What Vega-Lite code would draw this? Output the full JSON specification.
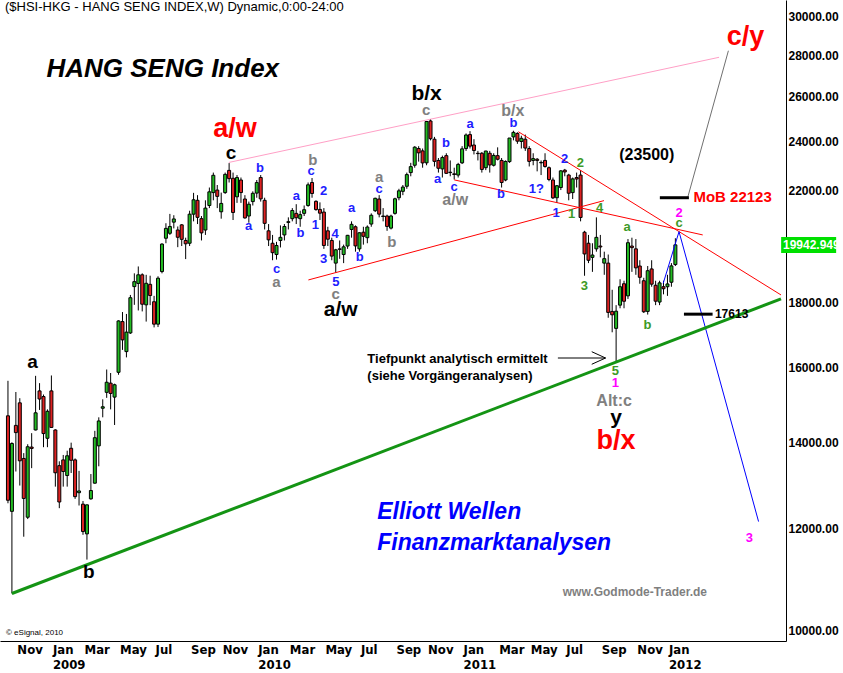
{
"$schema": "https://vega.github.io/schema/vega-lite/v6.json",
"width": 786, "height": 641,
"autosize": {"type": "none"},
"padding": {"left": 0, "top": 0, "right": 57, "bottom": 32},
"background": "white",
"config": {"view": {"stroke": null}, "font": "Liberation Sans"},
"datasets": {
"candles": [
{"date":"2008-10-20","open":14680,"high":15630,"low":12550,"close":12618},
{"date":"2008-10-27","open":12370,"high":14000,"low":10676,"close":13969},
{"date":"2008-11-03","open":14430,"high":15320,"low":13285,"close":14244},
{"date":"2008-11-10","open":15025,"high":15150,"low":12955,"close":13542},
{"date":"2008-11-17","open":13600,"high":13730,"low":11820,"close":12659},
{"date":"2008-11-24","open":12240,"high":13950,"low":12200,"close":13888},
{"date":"2008-12-01","open":13880,"high":14230,"low":13365,"close":13846},
{"date":"2008-12-08","open":14312,"high":15770,"low":14300,"close":14759},
{"date":"2008-12-15","open":15350,"high":15565,"low":14835,"close":15128},
{"date":"2008-12-22","open":15195,"high":15250,"low":13877,"close":14220},
{"date":"2008-12-29","open":14100,"high":14850,"low":13877,"close":14800},
{"date":"2009-01-05","open":15350,"high":15780,"low":14370,"close":14377},
{"date":"2009-01-12","open":14312,"high":14330,"low":12930,"close":13255},
{"date":"2009-01-19","open":13425,"high":13530,"low":12440,"close":12579},
{"date":"2009-01-26","open":13565,"high":13685,"low":12930,"close":13285},
{"date":"2009-02-02","open":13190,"high":13790,"low":12930,"close":13665},
{"date":"2009-02-09","open":13850,"high":13990,"low":13250,"close":13555},
{"date":"2009-02-16","open":13565,"high":13600,"low":12650,"close":12700},
{"date":"2009-02-23","open":12790,"high":13300,"low":12500,"close":12830},
{"date":"2009-03-02","open":12530,"high":12600,"low":11860,"close":11930},
{"date":"2009-03-09","open":11880,"high":12520,"low":11345,"close":12515},
{"date":"2009-03-16","open":12650,"high":13225,"low":12630,"close":12840},
{"date":"2009-03-23","open":13010,"high":14290,"low":13000,"close":14115},
{"date":"2009-03-30","open":13910,"high":14640,"low":13410,"close":14545},
{"date":"2009-04-06","open":14880,"high":15120,"low":14640,"close":14920},
{"date":"2009-04-13","open":15310,"high":15950,"low":15160,"close":15590},
{"date":"2009-04-20","open":15565,"high":15850,"low":14850,"close":15280},
{"date":"2009-04-27","open":15180,"high":15550,"low":14440,"close":15520},
{"date":"2009-05-04","open":15870,"high":17420,"low":15800,"close":17400},
{"date":"2009-05-11","open":17380,"high":17680,"low":16520,"close":16820},
{"date":"2009-05-18","open":16470,"high":17620,"low":16300,"close":17055},
{"date":"2009-05-25","open":17030,"high":18230,"low":17000,"close":18140},
{"date":"2009-06-01","open":18505,"high":18950,"low":17910,"close":18670},
{"date":"2009-06-08","open":18610,"high":19185,"low":17730,"close":18900},
{"date":"2009-06-15","open":18900,"high":18950,"low":17700,"close":17930},
{"date":"2009-06-22","open":17910,"high":18900,"low":17380,"close":18615},
{"date":"2009-06-29","open":18580,"high":18870,"low":17900,"close":18210},
{"date":"2009-07-06","open":18010,"high":18200,"low":17200,"close":17300},
{"date":"2009-07-13","open":17300,"high":18850,"low":17210,"close":18785},
{"date":"2009-07-20","open":19010,"high":20000,"low":18950,"close":19970},
{"date":"2009-07-27","open":20180,"high":20730,"low":20000,"close":20540},
{"date":"2009-08-03","open":20360,"high":21080,"low":20300,"close":20610},
{"date":"2009-08-10","open":20770,"high":21030,"low":20540,"close":20890},
{"date":"2009-08-17","open":20480,"high":20610,"low":19860,"close":20215},
{"date":"2009-08-24","open":20670,"high":20700,"low":19900,"close":20140},
{"date":"2009-08-31","open":20100,"high":20200,"low":19440,"close":19980},
{"date":"2009-09-07","open":20000,"high":21200,"low":19900,"close":21070},
{"date":"2009-09-14","open":21070,"high":21890,"low":20800,"close":21620},
{"date":"2009-09-21","open":21600,"high":21800,"low":20700,"close":20950},
{"date":"2009-09-28","open":20900,"high":21000,"low":20100,"close":20375},
{"date":"2009-10-05","open":20480,"high":21600,"low":20300,"close":21300},
{"date":"2009-10-12","open":21400,"high":22100,"low":21300,"close":21930},
{"date":"2009-10-19","open":21900,"high":22700,"low":21600,"close":22590},
{"date":"2009-10-26","open":22000,"high":22200,"low":21300,"close":21753},
{"date":"2009-11-02","open":21160,"high":21900,"low":20900,"close":21480},
{"date":"2009-11-09","open":21900,"high":22700,"low":21850,"close":22627},
{"date":"2009-11-16","open":22790,"high":23090,"low":22300,"close":22455},
{"date":"2009-11-23","open":22470,"high":22700,"low":20850,"close":21134},
{"date":"2009-11-30","open":21735,"high":22600,"low":21500,"close":22498},
{"date":"2009-12-07","open":22400,"high":22500,"low":21500,"close":21902},
{"date":"2009-12-14","open":21650,"high":21800,"low":20900,"close":20928},
{"date":"2009-12-21","open":21000,"high":21550,"low":20750,"close":21449},
{"date":"2009-12-28","open":21550,"high":21950,"low":21400,"close":21873},
{"date":"2010-01-04","open":21880,"high":22400,"low":21700,"close":22297},
{"date":"2010-01-11","open":22500,"high":22600,"low":21550,"close":21655},
{"date":"2010-01-18","open":21600,"high":21700,"low":20500,"close":20726},
{"date":"2010-01-25","open":20450,"high":20700,"low":19900,"close":20122},
{"date":"2010-02-01","open":20000,"high":20300,"low":19400,"close":19665},
{"date":"2010-02-08","open":19600,"high":20050,"low":19423,"close":19920},
{"date":"2010-02-15","open":20100,"high":20650,"low":19850,"close":20213},
{"date":"2010-02-22","open":20300,"high":20700,"low":20100,"close":20609},
{"date":"2010-03-01","open":20760,"high":20950,"low":20500,"close":20788},
{"date":"2010-03-08","open":20900,"high":21300,"low":20800,"close":21209},
{"date":"2010-03-15","open":21100,"high":21450,"low":20700,"close":20934},
{"date":"2010-03-22","open":20900,"high":21200,"low":20600,"close":21053},
{"date":"2010-03-29","open":21100,"high":21400,"low":21000,"close":21239},
{"date":"2010-04-05","open":21400,"high":22300,"low":21350,"close":22208},
{"date":"2010-04-12","open":22300,"high":22480,"low":21700,"close":21865},
{"date":"2010-04-19","open":21560,"high":21600,"low":21200,"close":21244},
{"date":"2010-04-26","open":21250,"high":21520,"low":20850,"close":21108},
{"date":"2010-05-03","open":21150,"high":21300,"low":19800,"close":19920},
{"date":"2010-05-10","open":20450,"high":20600,"low":19900,"close":20145},
{"date":"2010-05-17","open":20100,"high":20200,"low":19400,"close":19545},
{"date":"2010-05-24","open":19300,"high":19800,"low":18971,"close":19766},
{"date":"2010-05-31","open":19800,"high":20100,"low":19450,"close":19780},
{"date":"2010-06-07","open":19600,"high":19950,"low":19300,"close":19872},
{"date":"2010-06-14","open":19900,"high":20300,"low":19800,"close":20286},
{"date":"2010-06-21","open":20500,"high":20800,"low":20200,"close":20690},
{"date":"2010-06-28","open":20600,"high":20650,"low":19700,"close":19905},
{"date":"2010-07-05","open":19800,"high":20400,"low":19700,"close":20378},
{"date":"2010-07-12","open":20400,"high":20600,"low":19950,"close":20250},
{"date":"2010-07-19","open":20200,"high":20650,"low":20000,"close":20589},
{"date":"2010-07-26","open":20700,"high":21100,"low":20600,"close":21029},
{"date":"2010-08-02","open":21200,"high":21700,"low":21150,"close":21678},
{"date":"2010-08-09","open":21650,"high":21800,"low":20950,"close":21071},
{"date":"2010-08-16","open":21000,"high":21300,"low":20800,"close":20982},
{"date":"2010-08-23","open":21000,"high":21050,"low":20450,"close":20612},
{"date":"2010-08-30","open":20550,"high":21050,"low":20500,"close":21000},
{"date":"2010-09-06","open":21100,"high":21700,"low":21050,"close":21659},
{"date":"2010-09-13","open":21700,"high":22050,"low":21600,"close":21970},
{"date":"2010-09-20","open":21950,"high":22200,"low":21800,"close":22119},
{"date":"2010-09-27","open":22150,"high":22700,"low":22050,"close":22618},
{"date":"2010-10-04","open":22700,"high":23100,"low":22550,"close":22944},
{"date":"2010-10-11","open":23000,"high":23800,"low":22900,"close":23758},
{"date":"2010-10-18","open":23700,"high":23800,"low":23150,"close":23518},
{"date":"2010-10-25","open":23600,"high":23700,"low":22900,"close":23096},
{"date":"2010-11-01","open":23100,"high":24900,"low":23000,"close":24876},
{"date":"2010-11-08","open":24900,"high":24988,"low":24050,"close":24121},
{"date":"2010-11-15","open":24100,"high":24200,"low":22950,"close":23161},
{"date":"2010-11-22","open":23200,"high":23300,"low":22700,"close":22877},
{"date":"2010-11-29","open":22850,"high":23400,"low":22500,"close":23320},
{"date":"2010-12-06","open":23400,"high":23500,"low":22650,"close":22669},
{"date":"2010-12-13","open":22700,"high":23200,"low":22550,"close":22715},
{"date":"2010-12-20","open":22650,"high":22900,"low":22420,"close":22622},
{"date":"2010-12-27","open":22600,"high":23100,"low":22500,"close":23035},
{"date":"2011-01-03","open":23100,"high":23800,"low":23050,"close":23686},
{"date":"2011-01-10","open":23700,"high":24350,"low":23600,"close":24283},
{"date":"2011-01-17","open":24300,"high":24450,"low":23700,"close":23802},
{"date":"2011-01-24","open":23850,"high":24100,"low":23450,"close":23617},
{"date":"2011-01-31","open":23500,"high":23600,"low":23200,"close":23485},
{"date":"2011-02-07","open":23500,"high":23550,"low":22700,"close":22829},
{"date":"2011-02-14","open":22900,"high":23600,"low":22800,"close":23595},
{"date":"2011-02-21","open":23500,"high":23600,"low":22700,"close":23012},
{"date":"2011-02-28","open":23000,"high":23500,"low":22950,"close":23408},
{"date":"2011-03-07","open":23400,"high":23750,"low":23200,"close":23249},
{"date":"2011-03-14","open":23200,"high":23300,"low":22100,"close":22300},
{"date":"2011-03-21","open":22400,"high":23200,"low":22350,"close":23158},
{"date":"2011-03-28","open":23150,"high":24150,"low":23100,"close":24150},
{"date":"2011-04-04","open":24200,"high":24468,"low":24050,"close":24396},
{"date":"2011-04-11","open":24350,"high":24400,"low":23900,"close":24014},
{"date":"2011-04-18","open":24000,"high":24250,"low":23700,"close":24138},
{"date":"2011-04-25","open":24100,"high":24300,"low":23600,"close":23720},
{"date":"2011-05-02","open":23700,"high":23800,"low":22950,"close":23159},
{"date":"2011-05-09","open":23200,"high":23500,"low":23000,"close":23276},
{"date":"2011-05-16","open":23250,"high":23300,"low":22750,"close":23199},
{"date":"2011-05-23","open":23100,"high":23200,"low":22600,"close":23118},
{"date":"2011-05-30","open":23200,"high":23500,"low":22900,"close":22949},
{"date":"2011-06-06","open":22900,"high":22950,"low":22350,"close":22420},
{"date":"2011-06-13","open":22400,"high":22500,"low":21650,"close":21695},
{"date":"2011-06-20","open":21700,"high":22200,"low":21500,"close":22171},
{"date":"2011-06-27","open":22100,"high":22800,"low":22000,"close":22770},
{"date":"2011-07-04","open":22800,"high":22850,"low":22550,"close":22726},
{"date":"2011-07-11","open":22600,"high":22650,"low":21600,"close":21875},
{"date":"2011-07-18","open":21900,"high":22500,"low":21650,"close":22445},
{"date":"2011-07-25","open":22500,"high":22700,"low":22100,"close":22440},
{"date":"2011-08-01","open":22600,"high":22800,"low":20800,"close":20946},
{"date":"2011-08-08","open":20400,"high":20450,"low":18868,"close":19620},
{"date":"2011-08-15","open":20000,"high":20300,"low":19300,"close":19399},
{"date":"2011-08-22","open":19500,"high":20000,"low":19000,"close":19582},
{"date":"2011-08-29","open":19800,"high":20950,"low":19700,"close":20212},
{"date":"2011-09-05","open":19900,"high":20300,"low":19500,"close":19866},
{"date":"2011-09-12","open":19300,"high":19700,"low":18900,"close":19455},
{"date":"2011-09-19","open":19300,"high":19600,"low":17500,"close":17668},
{"date":"2011-09-26","open":17700,"high":18400,"low":17050,"close":17592},
{"date":"2011-10-03","open":17170,"high":17900,"low":16170,"close":17707},
{"date":"2011-10-10","open":17900,"high":18750,"low":17800,"close":18501},
{"date":"2011-10-17","open":18600,"high":18700,"low":17800,"close":18025},
{"date":"2011-10-24","open":18200,"high":20150,"low":18100,"close":20019},
{"date":"2011-10-31","open":19900,"high":20200,"low":19000,"close":19843},
{"date":"2011-11-07","open":19800,"high":20150,"low":18900,"close":19137},
{"date":"2011-11-14","open":19200,"high":19400,"low":18600,"close":18816},
{"date":"2011-11-21","open":18700,"high":18800,"low":17650,"close":17689},
{"date":"2011-11-28","open":17700,"high":19200,"low":17600,"close":19040},
{"date":"2011-12-05","open":19100,"high":19400,"low":18500,"close":18586},
{"date":"2011-12-12","open":18550,"high":18700,"low":17900,"close":18027},
{"date":"2011-12-19","open":18000,"high":18700,"low":17900,"close":18629},
{"date":"2011-12-26","open":18500,"high":18700,"low":18250,"close":18434},
{"date":"2012-01-02","open":18500,"high":18900,"low":18200,"close":18593},
{"date":"2012-01-09","open":18650,"high":19300,"low":18500,"close":19204},
{"date":"2012-01-16","open":19250,"high":20180,"low":19200,"close":19943}
],
"lines": [
{"line":"support","k":1,"date":"2008-10-27","price":10676},
{"line":"support","k":2,"date":"2012-07-21T06:00:00Z","price":18100},
{"line":"pink","k":1,"date":"2009-11-15T12:00:00Z","price":23116},
{"line":"pink","k":2,"date":"2012-04-02T12:00:00Z","price":27910},
{"line":"redA","k":1,"date":"2010-04-05T12:00:00Z","price":18727},
{"line":"redA","k":2,"date":"2011-09-11T12:00:00Z","price":21588},
{"line":"redB","k":1,"date":"2010-12-20","price":22405},
{"line":"redB","k":2,"date":"2012-03-04T12:00:00Z","price":20300},
{"line":"redC","k":1,"date":"2011-04-12T18:00:00Z","price":24424},
{"line":"redC","k":2,"date":"2012-07-21T06:00:00Z","price":18230},
{"line":"gray","k":1,"date":"2012-02-07T05:00:00Z","price":21735},
{"line":"gray","k":2,"date":"2012-04-19","price":28240},
{"line":"blue","k":1,"date":"2011-12-25T12:00:00Z","price":18614},
{"line":"blue","k":2,"date":"2012-01-22T12:00:00Z","price":20420},
{"line":"blue","k":3,"date":"2012-06-11T12:00:00Z","price":12145},
{"line":"mob","k":1,"date":"2011-12-19T12:00:00Z","price":21700},
{"line":"mob","k":2,"date":"2012-02-09","price":21700},
{"line":"lvl","k":1,"date":"2012-01-31T05:00:00Z","price":17613},
{"line":"lvl","k":2,"date":"2012-03-22","price":17613},
{"line":"shaft","k":1,"date":"2011-06-21T18:00:00Z","price":16282},
{"line":"shaft","k":2,"date":"2011-09-14T07:00:00Z","price":16282},
{"line":"head","k":1,"date":"2011-08-20T19:00:00Z","price":16467},
{"line":"head","k":2,"date":"2011-09-14T07:00:00Z","price":16282},
{"line":"head","k":3,"date":"2011-08-20T19:00:00Z","price":16100}
],
"tag": [{"d1":"2012-07-21T12:00:00Z","d2":"2012-10-27","p1":19656,"p2":20228,"dt":"2012-07-24T18:00:00Z","price":19935,"text":"19942.949"}],
"labels": [
{"group":"blue","date":"2010-01-09T19:00:00Z","price":22900,"text":"b"},
{"group":"blue","date":"2009-12-20T12:00:00Z","price":20640,"text":"a"},
{"group":"blue","date":"2010-02-08","price":19100,"text":"c"},
{"group":"blue","date":"2010-04-10T06:00:00Z","price":22780,"text":"c"},
{"group":"blue","date":"2010-03-15","price":21780,"text":"a"},
{"group":"blue","date":"2010-05-02T12:00:00Z","price":21970,"text":"2"},
{"group":"blue","date":"2010-03-22T12:00:00Z","price":20360,"text":"b"},
{"group":"blue","date":"2010-04-17T18:00:00Z","price":20660,"text":"1"},
{"group":"blue","date":"2010-05-22T18:00:00Z","price":20330,"text":"4"},
{"group":"blue","date":"2010-05-02T12:00:00Z","price":19430,"text":"3"},
{"group":"blue","date":"2010-05-24","price":18670,"text":"5"},
{"group":"blue","date":"2010-06-21","price":21320,"text":"a"},
{"group":"blue","date":"2010-07-05T12:00:00Z","price":19500,"text":"b"},
{"group":"blue","date":"2010-08-09","price":22030,"text":"c"},
{"group":"blue","date":"2010-12-05T12:00:00Z","price":23950,"text":"b"},
{"group":"blue","date":"2010-11-20T18:00:00Z","price":22440,"text":"a"},
{"group":"blue","date":"2010-12-20","price":22130,"text":"c"},
{"group":"blue","date":"2011-01-17","price":24760,"text":"a"},
{"group":"blue","date":"2011-04-04","price":24790,"text":"b"},
{"group":"blue","date":"2011-03-12T18:00:00Z","price":21850,"text":"b"},
{"group":"blue","date":"2011-05-14T18:00:00Z","price":22030,"text":"1?"},
{"group":"blue","date":"2011-07-03T12:00:00Z","price":23260,"text":"2"},
{"group":"blue","date":"2011-06-18T18:00:00Z","price":21110,"text":"1"},
{"group":"gray","date":"2010-02-08","price":18670,"text":"a"},
{"group":"gray","date":"2010-04-13T06:00:00Z","price":23220,"text":"b"},
{"group":"gray","date":"2010-05-24","price":18250,"text":"c"},
{"group":"gray","date":"2010-08-09","price":22540,"text":"a"},
{"group":"gray","date":"2010-08-31T06:00:00Z","price":20030,"text":"b"},
{"group":"gray","date":"2010-10-31T12:00:00Z","price":25390,"text":"c"},
{"group":"grayMid","date":"2010-12-21T18:00:00Z","price":21620,"text":"a/w"},
{"group":"grayMid","date":"2011-04-02T18:00:00Z","price":25360,"text":"b/x"},
{"group":"grayMid","date":"2011-09-29T12:00:00Z","price":15075,"text":"Alt:c"},
{"group":"green","date":"2011-07-31T12:00:00Z","price":23080,"text":"2"},
{"group":"green","date":"2011-07-16T06:00:00Z","price":21070,"text":"1"},
{"group":"green","date":"2011-09-03T18:00:00Z","price":21320,"text":"4"},
{"group":"green","date":"2011-08-07T12:00:00Z","price":18520,"text":"3"},
{"group":"green","date":"2011-10-22T06:00:00Z","price":20600,"text":"a"},
{"group":"green","date":"2011-11-27T12:00:00Z","price":17275,"text":"b"},
{"group":"green","date":"2012-01-22T12:00:00Z","price":20730,"text":"c"},
{"group":"green","date":"2011-10-01T18:00:00Z","price":15900,"text":"5"},
{"group":"magenta","date":"2012-01-22T12:00:00Z","price":21110,"text":"2"},
{"group":"magenta","date":"2011-10-01T18:00:00Z","price":15560,"text":"1"},
{"group":"magenta","date":"2012-05-26T06:00:00Z","price":11790,"text":"3"},
{"group":"black","date":"2008-12-02T18:00:00Z","price":16160,"text":"a"},
{"group":"black","date":"2009-03-12T12:00:00Z","price":11095,"text":"b"},
{"group":"black","date":"2009-11-19T12:00:00Z","price":23510,"text":"c"},
{"group":"blackL","date":"2010-11-01","price":26130,"text":"b/x"},
{"group":"blackL","date":"2010-06-01T18:00:00Z","price":17750,"text":"a/w"},
{"group":"blackL","date":"2011-10-03","price":14620,"text":"y"},
{"group":"red","date":"2009-11-26T12:00:00Z","price":24540,"text":"a/w"},
{"group":"red","date":"2012-05-19T06:00:00Z","price":28940,"text":"c/y"},
{"group":"red","date":"2011-10-03","price":14030,"text":"b/x"},
{"group":"note","date":"2011-11-26T06:00:00Z","price":23430,"text":"(23500)"},
{"group":"mob","date":"2012-04-26T12:00:00Z","price":21710,"text":"MoB 22123"},
{"group":"lvl","date":"2012-04-24T18:00:00Z","price":17620,"text":"17613"},
{"group":"tief","date":"2010-07-19","price":16250,"text":"Tiefpunkt analytisch ermittelt"},
{"group":"tief","date":"2010-07-19","price":15775,"text":"(siehe Vorgängeranalysen)"},
{"group":"ew","date":"2010-08-05T12:00:00Z","price":12355,"text":"Elliott Wellen"},
{"group":"ew","date":"2010-08-05T12:00:00Z","price":11685,"text":"Finanzmarktanalysen"},
{"group":"www","date":"2011-11-05T06:00:00Z","price":10705,"text":"www.Godmode-Trader.de"},
{"group":"title","date":"2008-10-14T18:00:00Z","price":30540,"text":"($HSI-HKG - HANG SENG INDEX,W) Dynamic,0:00-24:00"},
{"group":"hs","date":"2008-12-27T06:00:00Z","price":27330,"text":"HANG SENG Index"},
{"group":"copy","date":"2008-10-16T12:00:00Z","price":9946,"text":"© eSignal, 2010"}
]
},
"layer": [
{"data":{"name":"candles"},
 "mark":{"type":"rule","color":"black","strokeWidth":1},
 "encoding":{
  "x":{"field":"date","type":"temporal","title":null,"scale":{"type":"utc","nice":false,"domain":[{"year":2008,"month":10,"date":14,"hours":18,"utc":true},{"year":2012,"month":7,"date":21,"hours":6,"utc":true}]},
   "axis":{"title":null,"values":[{"year":2008,"month":11,"date":3,"utc":true},{"year":2009,"month":1,"date":5,"utc":true},{"year":2009,"month":3,"date":2,"utc":true},{"year":2009,"month":5,"date":4,"utc":true},{"year":2009,"month":7,"date":6,"utc":true},{"year":2009,"month":9,"date":7,"utc":true},{"year":2009,"month":11,"date":2,"utc":true},{"year":2010,"month":1,"date":4,"utc":true},{"year":2010,"month":3,"date":1,"utc":true},{"year":2010,"month":5,"date":3,"utc":true},{"year":2010,"month":7,"date":5,"utc":true},{"year":2010,"month":9,"date":6,"utc":true},{"year":2010,"month":11,"date":1,"utc":true},{"year":2011,"month":1,"date":3,"utc":true},{"year":2011,"month":3,"date":7,"utc":true},{"year":2011,"month":5,"date":2,"utc":true},{"year":2011,"month":7,"date":4,"utc":true},{"year":2011,"month":9,"date":5,"utc":true},{"year":2011,"month":11,"date":7,"utc":true},{"year":2012,"month":1,"date":2,"utc":true}],
    "labelExpr":"utcmonth(datum.value) == 0 ? [utcFormat(datum.value, '%b'), utcFormat(datum.value, '%Y')] : utcFormat(datum.value, '%b')",
    "labelAlign":"left","labelOffset":1,"labelBaseline":"top","labelPadding":2,"labelFont":"Liberation Sans Narrow, DejaVu Sans Condensed, sans-serif","labelFontSize":13,"labelFontWeight":"bold","labelColor":"black","labelLineHeight":15,"ticks":false,"grid":false,"domain":true,"domainColor":"black","labelOverlap":false,"labelFlush":false,"labelBound":false}},
  "y":{"field":"low","type":"quantitative","title":null,"scale":{"type":"log","nice":false,"domain":[9805,30928]},
   "axis":{"title":null,"orient":"right","values":[10000,12000,14000,16000,18000,22000,24000,26000,28000,30000],"format":".2f","labelAlign":"left","labelBaseline":"middle","labelPadding":2,"labelFont":"Liberation Sans","labelFontSize":12,"labelFontWeight":"bold","labelColor":"black","ticks":false,"grid":false,"domain":true,"domainColor":"black","labelOverlap":false,"labelFlush":false,"labelBound":false}},
  "y2":{"field":"high"}}},
{"data":{"name":"candles"},
 "mark":{"type":"bar","size":3,"stroke":"black","strokeWidth":1},
 "encoding":{
  "x":{"field":"date","type":"temporal","title":null,"scale":{"type":"utc","nice":false,"domain":[{"year":2008,"month":10,"date":14,"hours":18,"utc":true},{"year":2012,"month":7,"date":21,"hours":6,"utc":true}]}},
  "y":{"field":"open","type":"quantitative","title":null,"scale":{"type":"log","nice":false,"domain":[9805,30928]}},
  "y2":{"field":"close"},
  "fill":{"condition":{"test":"datum.close >= datum.open","value":"#22bb22"},"value":"#dd2222"}}},
{"data":{"name":"lines"},"transform":[{"filter":"datum.line === 'pink'"}],
 "mark":{"type":"line","color":"#ff9fc6","strokeWidth":1},
 "encoding":{
  "x":{"field":"date","type":"temporal","title":null,"scale":{"type":"utc","nice":false,"domain":[{"year":2008,"month":10,"date":14,"hours":18,"utc":true},{"year":2012,"month":7,"date":21,"hours":6,"utc":true}]}},
  "y":{"field":"price","type":"quantitative","title":null,"scale":{"type":"log","nice":false,"domain":[9805,30928]}},
  "order":{"field":"k"}}},
{"data":{"name":"lines"},"transform":[{"filter":"datum.line === 'redA' || datum.line === 'redB' || datum.line === 'redC'"}],
 "mark":{"type":"line","color":"#ff0000","strokeWidth":1},
 "encoding":{
  "x":{"field":"date","type":"temporal","title":null,"scale":{"type":"utc","nice":false,"domain":[{"year":2008,"month":10,"date":14,"hours":18,"utc":true},{"year":2012,"month":7,"date":21,"hours":6,"utc":true}]}},
  "y":{"field":"price","type":"quantitative","title":null,"scale":{"type":"log","nice":false,"domain":[9805,30928]}},
  "detail":{"field":"line"},"order":{"field":"k"}}},
{"data":{"name":"lines"},"transform":[{"filter":"datum.line === 'gray'"}],
 "mark":{"type":"line","color":"#707070","strokeWidth":1},
 "encoding":{
  "x":{"field":"date","type":"temporal","title":null,"scale":{"type":"utc","nice":false,"domain":[{"year":2008,"month":10,"date":14,"hours":18,"utc":true},{"year":2012,"month":7,"date":21,"hours":6,"utc":true}]}},
  "y":{"field":"price","type":"quantitative","title":null,"scale":{"type":"log","nice":false,"domain":[9805,30928]}},
  "order":{"field":"k"}}},
{"data":{"name":"lines"},"transform":[{"filter":"datum.line === 'blue'"}],
 "mark":{"type":"line","color":"#0000ff","strokeWidth":1},
 "encoding":{
  "x":{"field":"date","type":"temporal","title":null,"scale":{"type":"utc","nice":false,"domain":[{"year":2008,"month":10,"date":14,"hours":18,"utc":true},{"year":2012,"month":7,"date":21,"hours":6,"utc":true}]}},
  "y":{"field":"price","type":"quantitative","title":null,"scale":{"type":"log","nice":false,"domain":[9805,30928]}},
  "order":{"field":"k"}}},
{"data":{"name":"lines"},"transform":[{"filter":"datum.line === 'support'"}],
 "mark":{"type":"line","color":"#149414","strokeWidth":3},
 "encoding":{
  "x":{"field":"date","type":"temporal","title":null,"scale":{"type":"utc","nice":false,"domain":[{"year":2008,"month":10,"date":14,"hours":18,"utc":true},{"year":2012,"month":7,"date":21,"hours":6,"utc":true}]}},
  "y":{"field":"price","type":"quantitative","title":null,"scale":{"type":"log","nice":false,"domain":[9805,30928]}},
  "order":{"field":"k"}}},
{"data":{"name":"lines"},"transform":[{"filter":"datum.line === 'mob' || datum.line === 'lvl'"}],
 "mark":{"type":"line","color":"black","strokeWidth":3},
 "encoding":{
  "x":{"field":"date","type":"temporal","title":null,"scale":{"type":"utc","nice":false,"domain":[{"year":2008,"month":10,"date":14,"hours":18,"utc":true},{"year":2012,"month":7,"date":21,"hours":6,"utc":true}]}},
  "y":{"field":"price","type":"quantitative","title":null,"scale":{"type":"log","nice":false,"domain":[9805,30928]}},
  "detail":{"field":"line"},"order":{"field":"k"}}},
{"data":{"name":"lines"},"transform":[{"filter":"datum.line === 'shaft' || datum.line === 'head'"}],
 "mark":{"type":"line","color":"black","strokeWidth":1},
 "encoding":{
  "x":{"field":"date","type":"temporal","title":null,"scale":{"type":"utc","nice":false,"domain":[{"year":2008,"month":10,"date":14,"hours":18,"utc":true},{"year":2012,"month":7,"date":21,"hours":6,"utc":true}]}},
  "y":{"field":"price","type":"quantitative","title":null,"scale":{"type":"log","nice":false,"domain":[9805,30928]}},
  "detail":{"field":"line"},"order":{"field":"k"}}},
{"data":{"name":"tag"},
 "mark":{"type":"rect","color":"#00e000"},
 "encoding":{
  "x":{"field":"d1","type":"temporal","title":null,"scale":{"type":"utc","nice":false,"domain":[{"year":2008,"month":10,"date":14,"hours":18,"utc":true},{"year":2012,"month":7,"date":21,"hours":6,"utc":true}]}},
  "x2":{"field":"d2"},
  "y":{"field":"p1","type":"quantitative","title":null,"scale":{"type":"log","nice":false,"domain":[9805,30928]}},
  "y2":{"field":"p2"}}},
{"data":{"name":"tag"},
 "mark":{"type":"text","color":"white","fontWeight":"bold","fontSize":12,"align":"left","baseline":"middle"},
 "encoding":{
  "x":{"field":"dt","type":"temporal","title":null,"scale":{"type":"utc","nice":false,"domain":[{"year":2008,"month":10,"date":14,"hours":18,"utc":true},{"year":2012,"month":7,"date":21,"hours":6,"utc":true}]}},
  "y":{"field":"price","type":"quantitative","title":null,"scale":{"type":"log","nice":false,"domain":[9805,30928]}},
  "text":{"field":"text"}}},
{"data":{"name":"labels"},"transform":[{"filter":"datum.group === 'blue'"}],
 "mark":{"type":"text","color":"#2020ff","fontWeight":"bold","fontSize":13,"align":"center","baseline":"middle"},
 "encoding":{
  "x":{"field":"date","type":"temporal","title":null,"scale":{"type":"utc","nice":false,"domain":[{"year":2008,"month":10,"date":14,"hours":18,"utc":true},{"year":2012,"month":7,"date":21,"hours":6,"utc":true}]}},
  "y":{"field":"price","type":"quantitative","title":null,"scale":{"type":"log","nice":false,"domain":[9805,30928]}},
  "text":{"field":"text"}}},
{"data":{"name":"labels"},"transform":[{"filter":"datum.group === 'gray'"}],
 "mark":{"type":"text","color":"#808080","fontWeight":"bold","fontSize":15,"align":"center","baseline":"middle"},
 "encoding":{
  "x":{"field":"date","type":"temporal","title":null,"scale":{"type":"utc","nice":false,"domain":[{"year":2008,"month":10,"date":14,"hours":18,"utc":true},{"year":2012,"month":7,"date":21,"hours":6,"utc":true}]}},
  "y":{"field":"price","type":"quantitative","title":null,"scale":{"type":"log","nice":false,"domain":[9805,30928]}},
  "text":{"field":"text"}}},
{"data":{"name":"labels"},"transform":[{"filter":"datum.group === 'grayMid'"}],
 "mark":{"type":"text","color":"#808080","fontWeight":"bold","fontSize":16,"align":"center","baseline":"middle"},
 "encoding":{
  "x":{"field":"date","type":"temporal","title":null,"scale":{"type":"utc","nice":false,"domain":[{"year":2008,"month":10,"date":14,"hours":18,"utc":true},{"year":2012,"month":7,"date":21,"hours":6,"utc":true}]}},
  "y":{"field":"price","type":"quantitative","title":null,"scale":{"type":"log","nice":false,"domain":[9805,30928]}},
  "text":{"field":"text"}}},
{"data":{"name":"labels"},"transform":[{"filter":"datum.group === 'green'"}],
 "mark":{"type":"text","color":"#3d9a26","fontWeight":"bold","fontSize":13,"align":"center","baseline":"middle"},
 "encoding":{
  "x":{"field":"date","type":"temporal","title":null,"scale":{"type":"utc","nice":false,"domain":[{"year":2008,"month":10,"date":14,"hours":18,"utc":true},{"year":2012,"month":7,"date":21,"hours":6,"utc":true}]}},
  "y":{"field":"price","type":"quantitative","title":null,"scale":{"type":"log","nice":false,"domain":[9805,30928]}},
  "text":{"field":"text"}}},
{"data":{"name":"labels"},"transform":[{"filter":"datum.group === 'magenta'"}],
 "mark":{"type":"text","color":"#ff00ff","fontWeight":"bold","fontSize":13,"align":"center","baseline":"middle"},
 "encoding":{
  "x":{"field":"date","type":"temporal","title":null,"scale":{"type":"utc","nice":false,"domain":[{"year":2008,"month":10,"date":14,"hours":18,"utc":true},{"year":2012,"month":7,"date":21,"hours":6,"utc":true}]}},
  "y":{"field":"price","type":"quantitative","title":null,"scale":{"type":"log","nice":false,"domain":[9805,30928]}},
  "text":{"field":"text"}}},
{"data":{"name":"labels"},"transform":[{"filter":"datum.group === 'black'"}],
 "mark":{"type":"text","color":"black","fontWeight":"bold","fontSize":19,"align":"center","baseline":"middle"},
 "encoding":{
  "x":{"field":"date","type":"temporal","title":null,"scale":{"type":"utc","nice":false,"domain":[{"year":2008,"month":10,"date":14,"hours":18,"utc":true},{"year":2012,"month":7,"date":21,"hours":6,"utc":true}]}},
  "y":{"field":"price","type":"quantitative","title":null,"scale":{"type":"log","nice":false,"domain":[9805,30928]}},
  "text":{"field":"text"}}},
{"data":{"name":"labels"},"transform":[{"filter":"datum.group === 'blackL'"}],
 "mark":{"type":"text","color":"black","fontWeight":"bold","fontSize":21,"align":"center","baseline":"middle"},
 "encoding":{
  "x":{"field":"date","type":"temporal","title":null,"scale":{"type":"utc","nice":false,"domain":[{"year":2008,"month":10,"date":14,"hours":18,"utc":true},{"year":2012,"month":7,"date":21,"hours":6,"utc":true}]}},
  "y":{"field":"price","type":"quantitative","title":null,"scale":{"type":"log","nice":false,"domain":[9805,30928]}},
  "text":{"field":"text"}}},
{"data":{"name":"labels"},"transform":[{"filter":"datum.group === 'red'"}],
 "mark":{"type":"text","color":"#ff0000","fontWeight":"bold","fontSize":27,"align":"center","baseline":"middle"},
 "encoding":{
  "x":{"field":"date","type":"temporal","title":null,"scale":{"type":"utc","nice":false,"domain":[{"year":2008,"month":10,"date":14,"hours":18,"utc":true},{"year":2012,"month":7,"date":21,"hours":6,"utc":true}]}},
  "y":{"field":"price","type":"quantitative","title":null,"scale":{"type":"log","nice":false,"domain":[9805,30928]}},
  "text":{"field":"text"}}},
{"data":{"name":"labels"},"transform":[{"filter":"datum.group === 'note'"}],
 "mark":{"type":"text","color":"black","fontWeight":"bold","fontSize":16,"align":"center","baseline":"middle"},
 "encoding":{
  "x":{"field":"date","type":"temporal","title":null,"scale":{"type":"utc","nice":false,"domain":[{"year":2008,"month":10,"date":14,"hours":18,"utc":true},{"year":2012,"month":7,"date":21,"hours":6,"utc":true}]}},
  "y":{"field":"price","type":"quantitative","title":null,"scale":{"type":"log","nice":false,"domain":[9805,30928]}},
  "text":{"field":"text"}}},
{"data":{"name":"labels"},"transform":[{"filter":"datum.group === 'mob'"}],
 "mark":{"type":"text","color":"#ff0000","fontWeight":"bold","fontSize":15,"align":"center","baseline":"middle"},
 "encoding":{
  "x":{"field":"date","type":"temporal","title":null,"scale":{"type":"utc","nice":false,"domain":[{"year":2008,"month":10,"date":14,"hours":18,"utc":true},{"year":2012,"month":7,"date":21,"hours":6,"utc":true}]}},
  "y":{"field":"price","type":"quantitative","title":null,"scale":{"type":"log","nice":false,"domain":[9805,30928]}},
  "text":{"field":"text"}}},
{"data":{"name":"labels"},"transform":[{"filter":"datum.group === 'lvl'"}],
 "mark":{"type":"text","color":"black","fontWeight":"bold","fontSize":12,"align":"center","baseline":"middle"},
 "encoding":{
  "x":{"field":"date","type":"temporal","title":null,"scale":{"type":"utc","nice":false,"domain":[{"year":2008,"month":10,"date":14,"hours":18,"utc":true},{"year":2012,"month":7,"date":21,"hours":6,"utc":true}]}},
  "y":{"field":"price","type":"quantitative","title":null,"scale":{"type":"log","nice":false,"domain":[9805,30928]}},
  "text":{"field":"text"}}},
{"data":{"name":"labels"},"transform":[{"filter":"datum.group === 'tief'"}],
 "mark":{"type":"text","color":"black","fontWeight":"bold","fontSize":13,"align":"left","baseline":"middle"},
 "encoding":{
  "x":{"field":"date","type":"temporal","title":null,"scale":{"type":"utc","nice":false,"domain":[{"year":2008,"month":10,"date":14,"hours":18,"utc":true},{"year":2012,"month":7,"date":21,"hours":6,"utc":true}]}},
  "y":{"field":"price","type":"quantitative","title":null,"scale":{"type":"log","nice":false,"domain":[9805,30928]}},
  "text":{"field":"text"}}},
{"data":{"name":"labels"},"transform":[{"filter":"datum.group === 'ew'"}],
 "mark":{"type":"text","color":"#0000ff","fontWeight":"bold","fontStyle":"italic","fontSize":23,"align":"left","baseline":"middle"},
 "encoding":{
  "x":{"field":"date","type":"temporal","title":null,"scale":{"type":"utc","nice":false,"domain":[{"year":2008,"month":10,"date":14,"hours":18,"utc":true},{"year":2012,"month":7,"date":21,"hours":6,"utc":true}]}},
  "y":{"field":"price","type":"quantitative","title":null,"scale":{"type":"log","nice":false,"domain":[9805,30928]}},
  "text":{"field":"text"}}},
{"data":{"name":"labels"},"transform":[{"filter":"datum.group === 'www'"}],
 "mark":{"type":"text","color":"#7f7f7f","fontWeight":"bold","fontSize":12,"align":"center","baseline":"middle"},
 "encoding":{
  "x":{"field":"date","type":"temporal","title":null,"scale":{"type":"utc","nice":false,"domain":[{"year":2008,"month":10,"date":14,"hours":18,"utc":true},{"year":2012,"month":7,"date":21,"hours":6,"utc":true}]}},
  "y":{"field":"price","type":"quantitative","title":null,"scale":{"type":"log","nice":false,"domain":[9805,30928]}},
  "text":{"field":"text"}}},
{"data":{"name":"labels"},"transform":[{"filter":"datum.group === 'title'"}],
 "mark":{"type":"text","color":"black","fontSize":13,"align":"left","baseline":"middle"},
 "encoding":{
  "x":{"field":"date","type":"temporal","title":null,"scale":{"type":"utc","nice":false,"domain":[{"year":2008,"month":10,"date":14,"hours":18,"utc":true},{"year":2012,"month":7,"date":21,"hours":6,"utc":true}]}},
  "y":{"field":"price","type":"quantitative","title":null,"scale":{"type":"log","nice":false,"domain":[9805,30928]}},
  "text":{"field":"text"}}},
{"data":{"name":"labels"},"transform":[{"filter":"datum.group === 'hs'"}],
 "mark":{"type":"text","color":"black","fontWeight":"bold","fontStyle":"italic","fontSize":26,"align":"left","baseline":"middle"},
 "encoding":{
  "x":{"field":"date","type":"temporal","title":null,"scale":{"type":"utc","nice":false,"domain":[{"year":2008,"month":10,"date":14,"hours":18,"utc":true},{"year":2012,"month":7,"date":21,"hours":6,"utc":true}]}},
  "y":{"field":"price","type":"quantitative","title":null,"scale":{"type":"log","nice":false,"domain":[9805,30928]}},
  "text":{"field":"text"}}},
{"data":{"name":"labels"},"transform":[{"filter":"datum.group === 'copy'"}],
 "mark":{"type":"text","color":"black","fontSize":8,"align":"left","baseline":"middle"},
 "encoding":{
  "x":{"field":"date","type":"temporal","title":null,"scale":{"type":"utc","nice":false,"domain":[{"year":2008,"month":10,"date":14,"hours":18,"utc":true},{"year":2012,"month":7,"date":21,"hours":6,"utc":true}]}},
  "y":{"field":"price","type":"quantitative","title":null,"scale":{"type":"log","nice":false,"domain":[9805,30928]}},
  "text":{"field":"text"}}}
]
}
